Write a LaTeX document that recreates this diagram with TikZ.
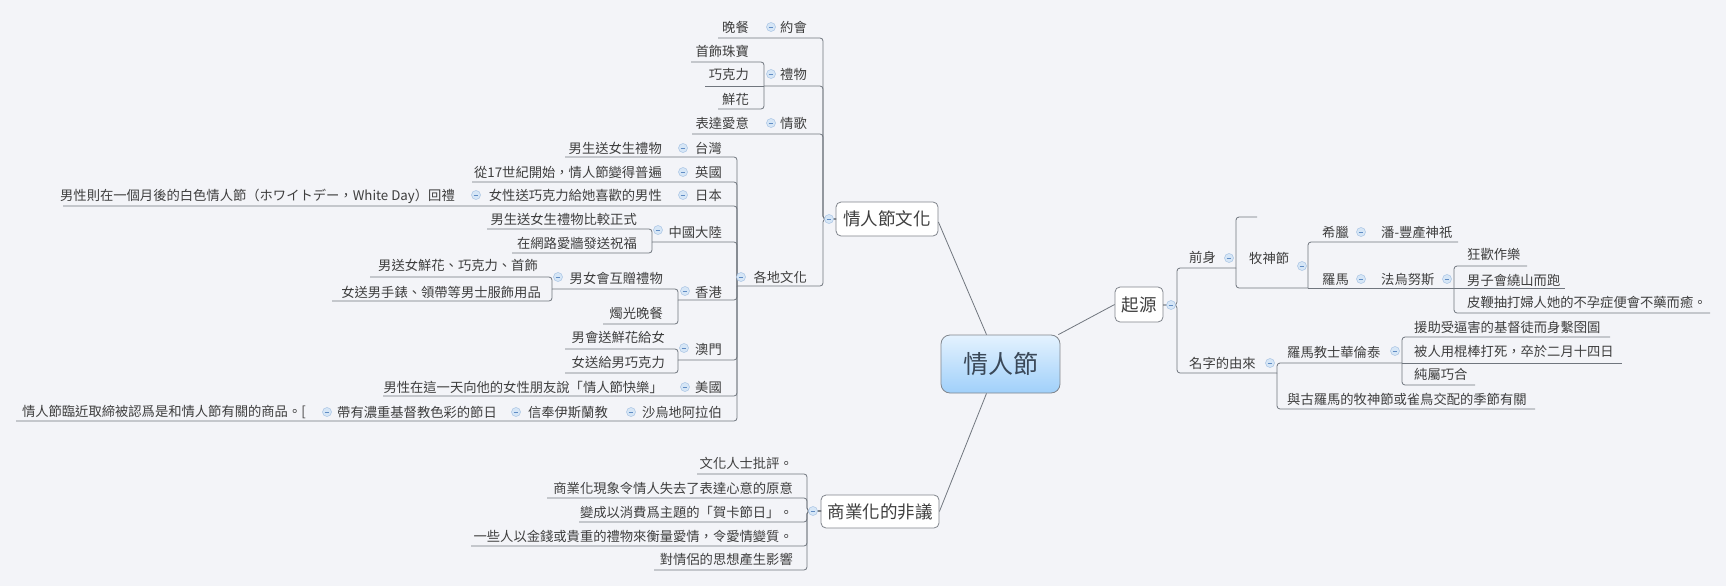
\documentclass[tikz,border=0pt]{standalone}
\usepackage{fontspec}
\setmainfont{Noto Sans CJK TC}
\definecolor{bg}{RGB}{243,244,248}
\definecolor{linec}{RGB}{112,118,126}
\definecolor{txt}{RGB}{62,62,62}
\definecolor{boxb}{RGB}{128,133,140}
\definecolor{togf}{RGB}{214,230,246}
\definecolor{togb}{RGB}{168,196,228}
\definecolor{togm}{RGB}{96,140,196}
\definecolor{hearttop}{RGB}{228,242,254}
\definecolor{heartbot}{RGB}{160,208,250}
\definecolor{hearttxt}{RGB}{58,72,88}
\tikzset{
 ln/.style={draw=linec, line width=0.8pt, rounded corners=3pt},
 lt/.style={anchor=east, inner sep=0pt, text=txt, font=\fontsize{13.3pt}{16pt}\selectfont, text height=11.7pt, text depth=1.6pt},
 rt/.style={lt, anchor=west},
 tog/.style={circle, draw=togb, fill=togf, line width=0.5pt, minimum size=9pt, inner sep=0pt,
   path picture={\draw[togm, line width=0.9pt] ([xshift=-2.3pt]path picture bounding box.center) -- ([xshift=2.3pt]path picture bounding box.center);}},
 topbox/.style={draw=boxb, fill=white, rounded corners=5pt, line width=0.8pt, inner sep=0pt, text=txt, font=\fontsize{17.5pt}{20pt}\selectfont},
 heartbox/.style={draw=boxb, top color=hearttop, bottom color=heartbot, rounded corners=9pt, line width=0.8pt, inner sep=0pt, text=hearttxt, font=\fontsize{25pt}{28pt}\selectfont, minimum width=119pt, minimum height=58pt},
}
\begin{document}
\begin{tikzpicture}[x=1pt,y=-1pt]
\useasboundingbox[fill=bg] (0,0) rectangle (1726,586);

% ---------- main boxes
\node[heartbox] (heart) at (1000.5,364) {情人節};
\node[topbox, minimum width=102pt, minimum height=34pt] (culture) at (887,219) {情人節文化};
\node[topbox, minimum width=118pt, minimum height=33pt] (comm) at (880,511.5) {商業化的非議};
\node[topbox, minimum width=48pt, minimum height=35pt] (origin) at (1139,304.5) {起源};

\draw[linec, line width=0.8pt] ([xshift=-14pt]heart.north) -- ([yshift=-3pt]culture.east);
\draw[linec, line width=0.8pt] ([xshift=-14pt]heart.south) -- (comm.east);
\draw[linec, line width=0.8pt] ([xshift=-2pt]heart.north east) -- (origin.west);

% ---------- 情人節文化 connectors
\draw[ln] (718,38) -- (823,38) -- (823,219) -- (836,219);
\draw[ln] (764,86) -- (823,86) -- (823,219) -- (836,219);
\draw[ln] (692,134) -- (823,134) -- (823,219) -- (836,219);
\draw[ln] (737,286) -- (823,286) -- (823,219) -- (836,219);
% 禮物
\draw[ln] (691,62) -- (764,62) -- (764,86);
\draw[ln] (718,109) -- (764,109) -- (764,86);
\draw[ln] (705,86) -- (764,86);
% 各地文化
\draw[ln] (565,157) -- (737,157) -- (737,286);
\draw[ln] (472,182) -- (737,182) -- (737,286);
\draw[ln] (63,206) -- (737,206) -- (737,286);
\draw[ln] (652,242) -- (737,242) -- (737,286);
\draw[ln] (678,300) -- (737,300) -- (737,286);
\draw[ln] (678,360) -- (737,360) -- (737,286);
\draw[ln] (383,396) -- (737,396) -- (737,286);
\draw[ln] (16,421) -- (737,421) -- (737,286);
% 中國大陸
\draw[ln] (487,229) -- (652,229) -- (652,242);
\draw[ln] (512,253) -- (652,253) -- (652,242);
% 香港
\draw[ln] (552,289) -- (678,289) -- (678,300);
\draw[ln] (603,324) -- (678,324) -- (678,300);
\draw[ln] (370,277) -- (552,277) -- (552,289);
\draw[ln] (332,301) -- (552,301) -- (552,289);
% 澳門
\draw[ln] (565,349) -- (678,349) -- (678,360);
\draw[ln] (565,373) -- (678,373) -- (678,360);

% ---------- 商業化的非議 connectors
\draw[ln] (697,474) -- (807,474) -- (807,511) -- (821,511);
\draw[ln] (547,498) -- (807,498) -- (807,511) -- (821,511);
\draw[ln] (579,522) -- (807,522) -- (807,511) -- (821,511);
\draw[ln] (471,546) -- (807,546) -- (807,511) -- (821,511);
\draw[ln] (654,570) -- (807,570) -- (807,511) -- (821,511);

% ---------- 起源 connectors
\draw[ln] (1163,305) -- (1177,305) -- (1177,268) -- (1236,268);
\draw[ln] (1163,305) -- (1177,305) -- (1177,373) -- (1277,373);
\draw[ln] (1236,268) -- (1236,217) -- (1257,217);
\draw[ln] (1236,268) -- (1236,288) -- (1308,288);
\draw[ln] (1308,288) -- (1308,242) -- (1458,242);
\draw[ln] (1308,288) -- (1454,288);
\draw[ln] (1454,288) -- (1454,266) -- (1527,266);
\draw[ln] (1454,288) -- (1565,288);
\draw[ln] (1454,288) -- (1454,313) -- (1710,313);
\draw[ln] (1277,373) -- (1277,363) -- (1402,363);
\draw[ln] (1277,373) -- (1277,409) -- (1535,409);
\draw[ln] (1402,363) -- (1402,337) -- (1610,337);
\draw[ln] (1402,363) -- (1622,363);
\draw[ln] (1402,363) -- (1402,385) -- (1475,385);

% ---------- left texts
\node[lt] (yuehui) at (807,27) {約會};
\node[lt] (wancan) at (749,27) {晚餐};
\node[lt] (liwu) at (807,74) {禮物};
\node[lt] (shoushi) at (749,51) {首飾珠寶};
\node[lt] (qiaokeli) at (749,74) {巧克力};
\node[lt] (xianhua) at (749,99) {鮮花};
\node[lt] (qingge) at (807,123) {情歌};
\node[lt] (biaoda) at (749,123) {表達愛意};
\node[lt] (gedi) at (807,277) {各地文化};

\node[lt] (taiwan) at (722,148) {台灣};
\node[lt] (tw1) at (662,148) {男生送女生禮物};
\node[lt] (uk) at (722,172) {英國};
\node[lt] (uk1) at (662,172) {從17世紀開始，情人節變得普遍};
\node[lt] (jp) at (722,195) {日本};
\node[lt] (jp1) at (662,195) {女性送巧克力給她喜歡的男性};
\node[lt] (jp2) at (455,195) {男性則在一個月後的白色情人節（ホワイトデー，White Day）回禮};
\node[lt] (cn) at (722,232) {中國大陸};
\node[lt] (cn1) at (637,219) {男生送女生禮物比較正式};
\node[lt] (cn2) at (637,243) {在網路愛牆發送祝福};
\node[lt] (hk) at (722,292) {香港};
\node[lt] (hk1) at (663,278) {男女會互贈禮物};
\node[lt] (hk1a) at (538,265) {男送女鮮花、巧克力、首飾};
\node[lt] (hk1b) at (541,292) {女送男手錶、領帶等男士服飾用品};
\node[lt] (hk2) at (663,313) {燭光晚餐};
\node[lt] (mo) at (722,349) {澳門};
\node[lt] (mo1) at (665,337) {男會送鮮花給女};
\node[lt] (mo2) at (665,362) {女送給男巧克力};
\node[lt] (us) at (722,387) {美國};
\node[lt] (us1) at (663,387) {男性在這一天向他的女性朋友說「情人節快樂」};
\node[lt] (sa) at (722,412) {沙烏地阿拉伯};
\node[lt] (sa1) at (608,412) {信奉伊斯蘭教};
\node[lt] (sa2) at (497,412) {帶有濃重基督教色彩的節日};
\node[lt] (sa3) at (306,411) {情人節臨近取締被認爲是和情人節有關的商品。[};

\node[lt] (c1) at (793,463) {文化人士批評。};
\node[lt] (c2) at (793,488) {商業化現象令情人失去了表達心意的原意};
\node[lt] (c3) at (793,512) {變成以消費爲主題的「賀卡節日」。};
\node[lt] (c4) at (793,536) {一些人以金錢或貴重的禮物來衡量愛情，令愛情變質。};
\node[lt] (c5) at (793,559) {對情侶的思想產生影響};

% ---------- right texts
\node[rt] (qianshen) at (1189,257) {前身};
\node[rt] (mingzi) at (1189,363) {名字的由來};
\node[rt] (mushen) at (1249,258) {牧神節};
\node[rt] (xila) at (1322,232) {希臘};
\node[rt] (pan) at (1381,232) {潘-豐產神祇};
\node[rt] (luoma) at (1322,279) {羅馬};
\node[rt] (fawu) at (1381,279) {法烏努斯};
\node[rt] (f1) at (1467,254) {狂歡作樂};
\node[rt] (f2) at (1467,280) {男子會繞山而跑};
\node[rt] (f3) at (1467,302) {皮鞭抽打婦人她的不孕症便會不藥而癒。};
\node[rt] (hualun) at (1287,352) {羅馬教士華倫泰};
\node[rt] (h1) at (1414,327) {援助受逼害的基督徒而身繫囹圄};
\node[rt] (h2) at (1414,351) {被人用棍棒打死，卒於二月十四日};
\node[rt] (h3) at (1414,374) {純屬巧合};
\node[rt] (gu) at (1287,399) {與古羅馬的牧神節或雀鳥交配的季節有關};

% ---------- toggles
\node[tog] (g1) at (771,27) {};
\node[tog] (g2) at (771,74) {};
\node[tog] (g3) at (771,123) {};
\node[tog] (g4) at (741,277) {};
\node[tog] (g5) at (829,219) {};
\node[tog] (g6) at (683,148) {};
\node[tog] (g7) at (683,172) {};
\node[tog] (g8) at (683,195) {};
\node[tog] (g9) at (476,195) {};
\node[tog] (g10) at (658,230) {};
\node[tog] (g11) at (685,291) {};
\node[tog] (g12) at (558,277) {};
\node[tog] (g13) at (684,348) {};
\node[tog] (g14) at (685,387) {};
\node[tog] (g15) at (631,412) {};
\node[tog] (g16) at (516,412) {};
\node[tog] (g17) at (327,412) {};
\node[tog] (g18) at (813,511) {};
\node[tog] (g19) at (1171,305) {};
\node[tog] (g20) at (1229,258) {};
\node[tog] (g21) at (1270,363) {};
\node[tog] (g22) at (1302,266) {};
\node[tog] (g23) at (1361,232) {};
\node[tog] (g24) at (1361,279) {};
\node[tog] (g25) at (1447,279) {};
\node[tog] (g26) at (1395,351) {};
\end{tikzpicture}
\end{document}
